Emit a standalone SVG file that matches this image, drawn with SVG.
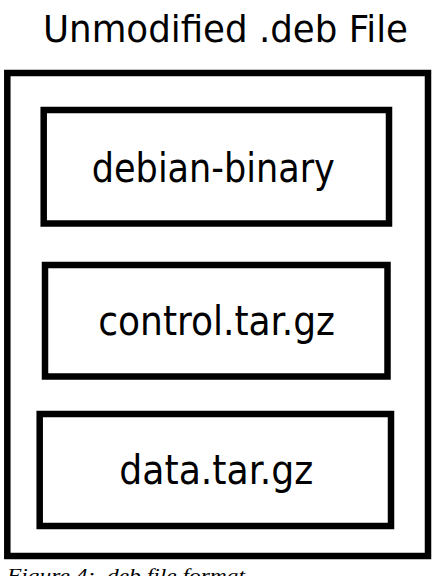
<svg xmlns="http://www.w3.org/2000/svg" width="434" height="576" viewBox="0 0 434 576">
<style>
.box{fill:#ffffff;stroke:#000000;stroke-width:6.5}
.lbl{font-family:"DejaVu Sans Condensed","DejaVu Sans",sans-serif;fill:#000000;text-anchor:middle}
.cap{font-family:"Liberation Serif","Times New Roman",serif;font-style:italic;fill:#000000}
</style>
<rect width="434" height="576" fill="#ffffff"/>
<text class="lbl" x="225.5" y="42" font-size="38" textLength="365" lengthAdjust="spacingAndGlyphs">Unmodified .deb File</text>
<g id="deb-file">
<rect class="box" x="7.3" y="73" width="420.7" height="483"/>
</g>
<g id="debian-binary">
<rect class="box" x="43.7" y="110" width="345.3" height="113.5"/>
<text class="lbl" x="213.3" y="181.5" font-size="40" textLength="243" lengthAdjust="spacingAndGlyphs">debian-binary</text>
</g>
<g id="control-tar-gz">
<rect class="box" x="45" y="265" width="342.5" height="111.5"/>
<text class="lbl" x="216.6" y="335" font-size="40" textLength="236.7" lengthAdjust="spacingAndGlyphs">control.tar.gz</text>
</g>
<g id="data-tar-gz">
<rect class="box" x="39.7" y="414" width="351.3" height="112"/>
<text class="lbl" x="216.3" y="484" font-size="40" textLength="194" lengthAdjust="spacingAndGlyphs">data.tar.gz</text>
</g>
<g id="connectors"/>
<text class="cap" x="7" y="582" font-size="19" textLength="238" lengthAdjust="spacingAndGlyphs">Figure 4: .deb file format</text>
</svg>
